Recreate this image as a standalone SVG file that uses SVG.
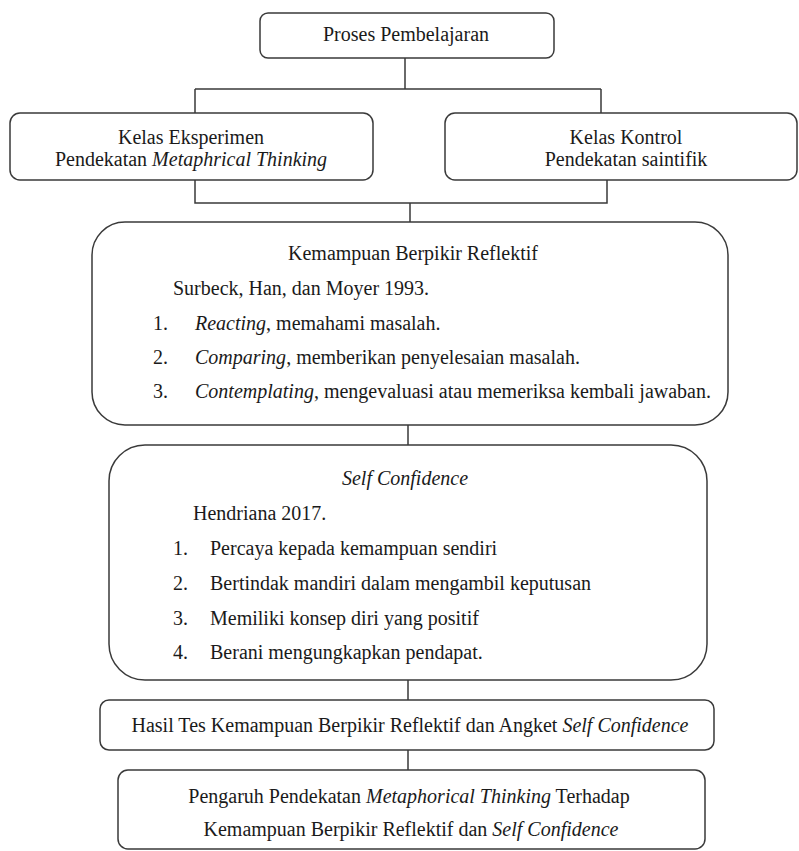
<svg xmlns="http://www.w3.org/2000/svg" width="799" height="851" viewBox="0 0 799 851">
<style>
.box{fill:#fff;stroke:#3a3a3a;stroke-width:1.5}
.ln{fill:none;stroke:#3a3a3a;stroke-width:1.5}
text{font-family:"Liberation Serif","Times New Roman",serif;font-size:20px;fill:#1a1a1a}
.c{text-anchor:middle}
.i{font-style:italic}
</style>
<rect width="799" height="851" fill="#fff"/>
<g id="connectors">
<path class="ln" d="M405 58V89M195 89H601M195 89V113M601 89V113"/>
<path class="ln" d="M195 180V203H607V180M410 203V222"/>
<path class="ln" d="M408 425V445M408 680V700M408 750V770"/>
</g>
<g id="proses">
<rect class="box" x="260" y="13" width="294" height="45" rx="8"/>
<text class="c" x="406" y="41">Proses Pembelajaran</text>
</g>
<g id="eksperimen">
<rect class="box" x="10" y="113" width="363" height="67" rx="10"/>
<text class="c" x="191" y="144">Kelas Eksperimen</text>
<text class="c" x="191" y="166">Pendekatan <tspan class="i">Metaphrical Thinking</tspan></text>
</g>
<g id="kontrol">
<rect class="box" x="445" y="113" width="352" height="67" rx="10"/>
<text class="c" x="626" y="144">Kelas Kontrol</text>
<text class="c" x="626" y="166">Pendekatan saintifik</text>
</g>
<g id="reflektif">
<rect class="box" x="92" y="222" width="636" height="203" rx="33"/>
<text class="c" x="413" y="260">Kemampuan Berpikir Reflektif</text>
<text x="173" y="295">Surbeck, Han, dan Moyer 1993.</text>
<text x="153" y="330">1.</text><text x="195" y="330"><tspan class="i">Reacting</tspan>, memahami masalah.</text>
<text x="153" y="364">2.</text><text x="195" y="364"><tspan class="i">Comparing</tspan>, memberikan penyelesaian masalah.</text>
<text x="153" y="398">3.</text><text x="195" y="398"><tspan class="i">Contemplating</tspan>, mengevaluasi atau memeriksa kembali jawaban.</text>
</g>
<g id="selfconfidence">
<rect class="box" x="109" y="445" width="598" height="235" rx="36"/>
<text class="c i" x="405" y="485">Self Confidence</text>
<text x="193" y="520">Hendriana 2017.</text>
<text x="173" y="555">1.</text><text x="210" y="555">Percaya kepada kemampuan sendiri</text>
<text x="173" y="590">2.</text><text x="210" y="590">Bertindak mandiri dalam mengambil keputusan</text>
<text x="173" y="625">3.</text><text x="210" y="625">Memiliki konsep diri yang positif</text>
<text x="173" y="659">4.</text><text x="210" y="659">Berani mengungkapkan pendapat.</text>
</g>
<g id="hasil">
<rect class="box" x="100" y="700" width="614" height="50" rx="9"/>
<text class="c" x="410" y="732">Hasil Tes Kemampuan Berpikir Reflektif dan Angket <tspan class="i">Self Confidence</tspan></text>
</g>
<g id="pengaruh">
<rect class="box" x="118" y="770" width="587" height="79" rx="10"/>
<text class="c" x="409" y="803">Pengaruh Pendekatan <tspan class="i">Metaphorical Thinking</tspan> Terhadap</text>
<text class="c" x="411" y="836">Kemampuan Berpikir Reflektif dan <tspan class="i">Self Confidence</tspan></text>
</g>
</svg>
